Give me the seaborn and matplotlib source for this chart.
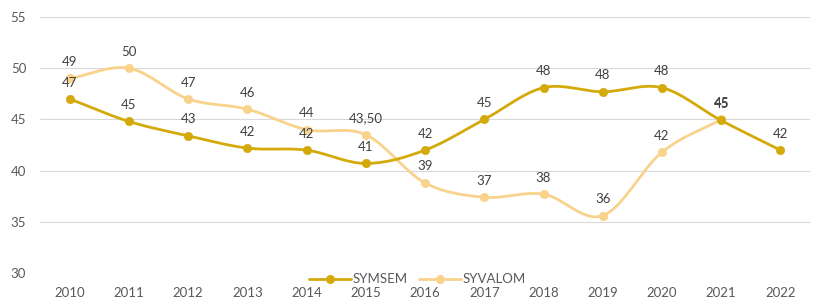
import matplotlib
matplotlib.use("Agg")
import matplotlib.pyplot as plt
import numpy as np
import pandas as pd
import seaborn as sns

years = list(range(2010, 2023))
symsem = [47.0, 44.8, 43.4, 42.2, 42.0, 40.7, 42.0, 45.0, 48.1, 47.7, 48.1, 44.9, 42.0]
syvalom = [49.0, 50.0, 47.0, 46.0, 44.0, 43.5, 38.8, 37.4, 37.7, 35.6, 41.8, 45.0, np.nan]

COL_SYMSEM = "#D4A90A"
COL_SYVALOM = "#F9D28C"


def smooth(x, y, n=20):
    # Catmull-Rom spline through the points (Excel style smoothed line)
    x = np.asarray(x, float)
    y = np.asarray(y, float)
    ok = ~np.isnan(y)
    x, y = x[ok], y[ok]
    px = np.concatenate([[2 * x[0] - x[1]], x, [2 * x[-1] - x[-2]]])
    py = np.concatenate([[2 * y[0] - y[1]], y, [2 * y[-1] - y[-2]]])
    xs, ys = [], []
    t = np.linspace(0, 1, n)
    for i in range(1, len(px) - 2):
        for p, out in ((px, xs), (py, ys)):
            p0, p1, p2, p3 = p[i - 1], p[i], p[i + 1], p[i + 2]
            out.extend(0.5 * ((2 * p1) + (-p0 + p2) * t
                              + (2 * p0 - 5 * p1 + 4 * p2 - p3) * t ** 2
                              + (-p0 + 3 * p1 - 3 * p2 + p3) * t ** 3))
    return np.array(xs), np.array(ys)


def fmt(v):
    if v == 43.5:
        return "43,50"
    return f"{v:.0f}"


sns.set_style("white")
plt.rcParams["font.family"] = ["Lato", "DejaVu Sans"]

fig = plt.figure(figsize=(8.19, 2.99), dpi=100)
ax = fig.add_axes([0.049, 0.087, 0.94, 0.856])

for name, vals, col, z in (("SYMSEM", symsem, COL_SYMSEM, 3), ("SYVALOM", syvalom, COL_SYVALOM, 2)):
    sx, sy = smooth(years, vals)
    sns.lineplot(x=sx, y=sy, ax=ax, color=col, linewidth=2.0, sort=False, zorder=z)
    df = pd.DataFrame({"year": years, "v": vals}).dropna()
    sns.scatterplot(data=df, x="year", y="v", ax=ax, color=col, s=36, edgecolor=col, zorder=z + 0.5)
    for yr, v in zip(df["year"], df["v"]):
        ax.annotate(fmt(v), (yr, v), xytext=(0, 7.5), textcoords="offset points",
                    ha="center", va="bottom", fontsize=9.5, color="#404040", zorder=5)

ax.set_xlim(2009.5, 2022.5)
ax.set_ylim(30, 55)
ax.set_yticks(range(30, 56, 5))
ax.set_xticks(years)
ax.grid(axis="y", color="#D9D9D9", linewidth=0.8)
ax.set_axisbelow(True)
for s in ax.spines.values():
    s.set_visible(False)
ax.tick_params(axis="both", length=0, labelsize=9.5, labelcolor="#595959")
ax.tick_params(axis="x", pad=10)
ax.tick_params(axis="y", pad=10)
ax.set_xlabel("")
ax.set_ylabel("")

handles = [plt.Line2D([], [], color=COL_SYMSEM, lw=2.0, marker="o", ms=5.5),
           plt.Line2D([], [], color=COL_SYVALOM, lw=2.0, marker="o", ms=5.5)]
ax.legend(handles, ["SYMSEM", "SYVALOM"], loc="center", bbox_to_anchor=(0.49, -0.025),
          ncol=2, frameon=False, fontsize=9.5, handlelength=3.2, handletextpad=0.1,
          columnspacing=0.9, labelcolor="#595959")

fig.savefig("out.png", dpi=100)
